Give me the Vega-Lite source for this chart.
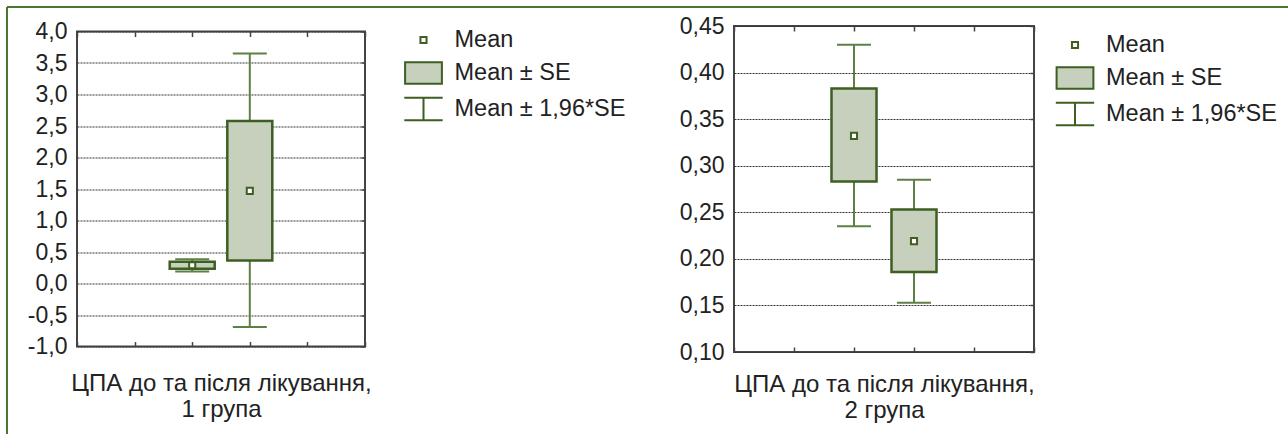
{
  "$schema": "https://vega.github.io/schema/vega-lite/v6.json",
  "padding": {"left": 6, "top": 6, "right": 0, "bottom": 0},
  "background": "white",
  "config": {
    "font": "Liberation Sans",
    "locale": {"number": {"decimal": ",", "thousands": " ", "grouping": [3], "currency": ["", ""], "minus": "-"}},
    "view": {"stroke": "#444", "strokeWidth": 2},
    "axis": {
      "labelFont": "Liberation Sans", "labelFontSize": 23, "labelColor": "#222",
      "titleFont": "Liberation Sans", "titleFontSize": 24, "titleColor": "#222", "titleFontWeight": "normal",
      "titleLineHeight": 26,
      "gridColor": "#333", "gridDash": [2, 1], "gridWidth": 1, "gridOpacity": 1,
      "tickColor": "#444", "tickWidth": 1.5
    },
    "legend": {
      "labelFont": "Liberation Sans", "labelFontSize": 23.5, "labelColor": "#222", "labelLimit": 400,
      "symbolSize": 1024, "symbolStrokeColor": "#3d5f22", "symbolStrokeWidth": 2,
      "rowPadding": 4, "labelOffset": 14, "padding": 0
    }
  },
  "datasets": {
    "g1": [
      {"period": "до", "mean": 0.29, "se_lo": 0.235, "se_hi": 0.345, "ci_lo": 0.19, "ci_hi": 0.385},
      {"period": "після", "mean": 1.47, "se_lo": 0.365, "se_hi": 2.58, "ci_lo": -0.69, "ci_hi": 3.65}
    ],
    "g2": [
      {"period": "до", "mean": 0.332, "se_lo": 0.283, "se_hi": 0.383, "ci_lo": 0.235, "ci_hi": 0.43},
      {"period": "після", "mean": 0.219, "se_lo": 0.186, "se_hi": 0.253, "ci_lo": 0.153, "ci_hi": 0.285}
    ],
    "edge": [{"edge": "border"}]
  },
  "bounds": "flush",
  "spacing": 0,
  "hconcat": [
    {
      "width": 70, "height": 427,
      "view": {"stroke": null},
      "data": {"name": "edge"},
      "layer": [
        {"mark": {"type": "rule", "color": "#4a7729", "strokeWidth": 2},
         "encoding": {"x": {"datum": 0, "type": "quantitative", "scale": {"domain": [0, 1]}, "axis": null}}},
        {"mark": {"type": "rule", "color": "#4a7729", "strokeWidth": 2},
         "encoding": {"y": {"datum": 1, "type": "quantitative", "scale": {"domain": [0, 1]}, "axis": null}}}
      ]
    },
    {
      "bounds": "flush",
      "spacing": 0,
      "vconcat": [
        {
          "width": 1211, "height": 19,
          "view": {"stroke": null},
          "data": {"name": "edge"},
          "mark": {"type": "rule", "color": "#4a7729", "strokeWidth": 2},
          "encoding": {"y": {"datum": 1, "type": "quantitative", "scale": {"domain": [0, 1]}, "axis": null}}
        },
        {
          "bounds": "flush",
          "spacing": 369,
          "center": true,
          "resolve": {"scale": {"shape": "independent", "fill": "independent", "stroke": "independent"}, "legend": {"shape": "independent", "fill": "independent", "stroke": "independent"}},
          "hconcat": [
            {
              "width": 288, "height": 315,
              "data": {"name": "g1"},
              "resolve": {"axis": {"x": "independent", "y": "independent"}},
              "layer": [
                {"mark": {"type": "rule", "color": "#5e7f46", "strokeWidth": 2},
                 "encoding": {
                   "x": {"field": "period", "type": "nominal", "scale": {"type": "point", "domain": ["a", "b", "до", "після", "c", "d"], "padding": 0},
                         "axis": {"orient": "bottom", "labels": false, "tickSize": -5, "domain": false, "grid": false, "title": ["ЦПА до та після лікування,", "1 група"], "titlePadding": 24}},
                   "y": {"field": "ci_lo", "type": "quantitative", "scale": {"domain": [-1, 4], "nice": false, "zero": false},
                         "axis": {"orient": "left", "values": [-1, -0.5, 0, 0.5, 1, 1.5, 2, 2.5, 3, 3.5, 4], "format": ".1f", "ticks": false, "labelPadding": 10, "domain": false, "grid": true, "title": null}},
                   "y2": {"field": "ci_hi"}
                 }},
                {"mark": {"type": "tick", "color": "#5e7f46", "size": 34, "thickness": 2, "opacity": 1},
                 "encoding": {"x": {"field": "period", "type": "nominal", "axis": null}, "y": {"field": "ci_lo", "type": "quantitative", "axis": null}}},
                {"mark": {"type": "tick", "color": "#5e7f46", "size": 34, "thickness": 2, "opacity": 1},
                 "encoding": {"x": {"field": "period", "type": "nominal", "axis": null}, "y": {"field": "ci_hi", "type": "quantitative", "axis": null}}},
                {"mark": {"type": "bar", "width": 45, "fill": "#c6d0bd", "stroke": "#3d5f22", "strokeWidth": 2.5, "opacity": 1},
                 "encoding": {"x": {"field": "period", "type": "nominal", "axis": null}, "y": {"field": "se_lo", "type": "quantitative", "axis": null}, "y2": {"field": "se_hi"}}},
                {"mark": {"type": "point", "filled": false, "size": 1024, "strokeWidth": 2, "opacity": 1},
                 "encoding": {
                   "x": {"field": "period", "type": "nominal", "axis": {"orient": "top", "labels": false, "tickSize": -5, "domain": false, "grid": false, "title": null}},
                   "y": {"field": "mean", "type": "quantitative", "axis": {"orient": "right", "labels": false, "values": [-1, -0.5, 0, 0.5, 1, 1.5, 2, 2.5, 3, 3.5, 4], "tickSize": -4, "domain": false, "grid": false, "title": null}},
                   "shape": {"datum": "Mean", "scale": {"domain": ["Mean", "Mean ± SE", "Mean ± 1,96*SE"], "range": ["M-0.19,-0.19H0.19V0.19H-0.19Z", "M-1.15,-0.67H1.15V0.67H-1.15Z", "M-1.2,-0.71H1.2M0,-0.71V0.71M-1.2,0.71H1.2"]},
                             "legend": {"title": null, "orient": "none", "legendX": 329.5, "legendY": -8.5}},
                   "fill": {"datum": "Mean", "scale": {"domain": ["Mean", "Mean ± SE", "Mean ± 1,96*SE"], "range": ["#ffffff", "#c6d0bd", "rgba(0,0,0,0)"]},
                            "legend": {"title": null, "orient": "none", "legendX": 329.5, "legendY": -8.5}},
                   "stroke": {"datum": "Mean", "scale": {"domain": ["Mean", "Mean ± SE", "Mean ± 1,96*SE"], "range": ["#3d5f22", "#3d5f22", "#3d5f22"]},
                            "legend": {"title": null, "orient": "none", "legendX": 329.5, "legendY": -8.5}}
                 }}
              ]
            },
            {
              "width": 300, "height": 326,
              "data": {"name": "g2"},
              "resolve": {"axis": {"x": "independent", "y": "independent"}},
              "layer": [
                {"mark": {"type": "rule", "color": "#5e7f46", "strokeWidth": 2},
                 "encoding": {
                   "x": {"field": "period", "type": "nominal", "scale": {"type": "point", "domain": ["a", "b", "до", "після", "c", "d"], "padding": 0},
                         "axis": {"orient": "bottom", "labels": false, "tickSize": -5, "domain": false, "grid": false, "title": ["ЦПА до та після лікування,", "2 група"], "titlePadding": 20}},
                   "y": {"field": "ci_lo", "type": "quantitative", "scale": {"domain": [0.1, 0.45], "nice": false, "zero": false},
                         "axis": {"orient": "left", "values": [0.1, 0.15, 0.2, 0.25, 0.3, 0.35, 0.4, 0.45], "format": ".2f", "ticks": false, "labelPadding": 10, "domain": false, "grid": true, "title": null}},
                   "y2": {"field": "ci_hi"}
                 }},
                {"mark": {"type": "tick", "color": "#5e7f46", "size": 34, "thickness": 2, "opacity": 1},
                 "encoding": {"x": {"field": "period", "type": "nominal", "axis": null}, "y": {"field": "ci_lo", "type": "quantitative", "axis": null}}},
                {"mark": {"type": "tick", "color": "#5e7f46", "size": 34, "thickness": 2, "opacity": 1},
                 "encoding": {"x": {"field": "period", "type": "nominal", "axis": null}, "y": {"field": "ci_hi", "type": "quantitative", "axis": null}}},
                {"mark": {"type": "bar", "width": 45, "fill": "#c6d0bd", "stroke": "#3d5f22", "strokeWidth": 2.5, "opacity": 1},
                 "encoding": {"x": {"field": "period", "type": "nominal", "axis": null}, "y": {"field": "se_lo", "type": "quantitative", "axis": null}, "y2": {"field": "se_hi"}}},
                {"mark": {"type": "point", "filled": false, "size": 1024, "strokeWidth": 2, "opacity": 1},
                 "encoding": {
                   "x": {"field": "period", "type": "nominal", "axis": {"orient": "top", "labels": false, "tickSize": -5, "domain": false, "grid": false, "title": null}},
                   "y": {"field": "mean", "type": "quantitative", "axis": {"orient": "right", "labels": false, "values": [0.1, 0.15, 0.2, 0.25, 0.3, 0.35, 0.4, 0.45], "tickSize": -4, "domain": false, "grid": false, "title": null}},
                   "shape": {"datum": "Mean", "scale": {"domain": ["Mean", "Mean ± SE", "Mean ± 1,96*SE"], "range": ["M-0.19,-0.19H0.19V0.19H-0.19Z", "M-1.15,-0.67H1.15V0.67H-1.15Z", "M-1.2,-0.71H1.2M0,-0.71V0.71M-1.2,0.71H1.2"]},
                             "legend": {"title": null, "orient": "none", "legendX": 324, "legendY": 2}},
                   "fill": {"datum": "Mean", "scale": {"domain": ["Mean", "Mean ± SE", "Mean ± 1,96*SE"], "range": ["#ffffff", "#c6d0bd", "rgba(0,0,0,0)"]},
                            "legend": {"title": null, "orient": "none", "legendX": 324, "legendY": 2}},
                   "stroke": {"datum": "Mean", "scale": {"domain": ["Mean", "Mean ± SE", "Mean ± 1,96*SE"], "range": ["#3d5f22", "#3d5f22", "#3d5f22"]},
                            "legend": {"title": null, "orient": "none", "legendX": 324, "legendY": 2}}
                 }}
              ]
            }
          ]
        }
      ]
    }
  ]
}
